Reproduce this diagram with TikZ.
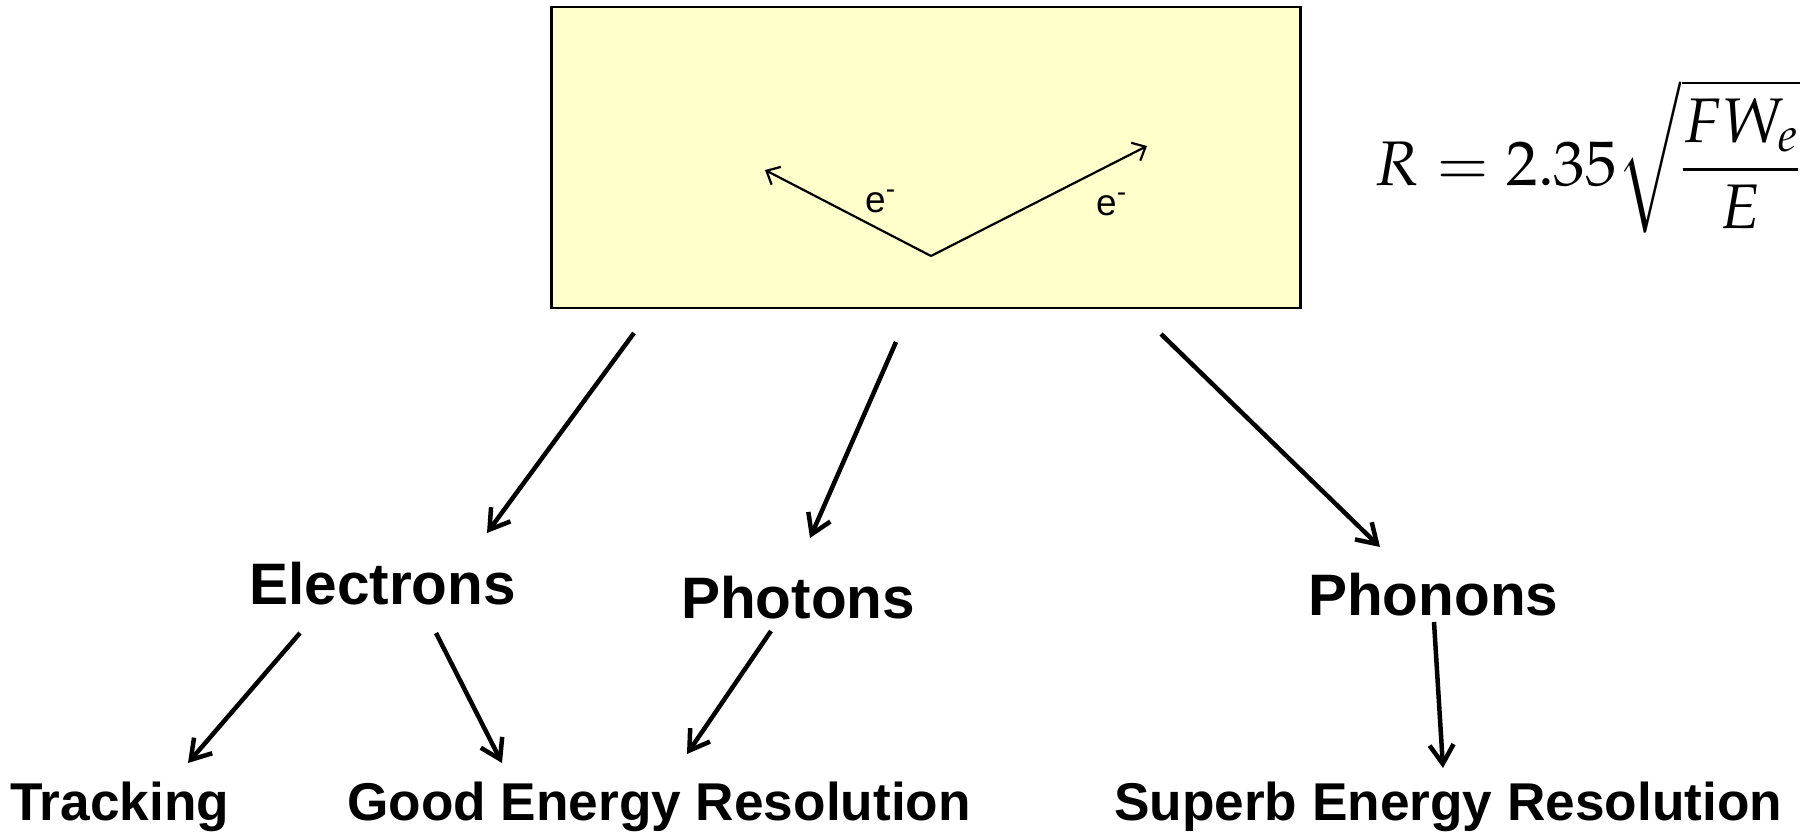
\documentclass[tikz,border=0pt]{standalone}
\usepackage{mathpazo}
\usepackage[no-math]{fontspec}
\setmainfont{Liberation Sans}
\usetikzlibrary{arrows.meta}
\definecolor{boxfill}{HTML}{FFFFCC}
\begin{document}
\begin{tikzpicture}[x=1pt,y=-1pt,
  big/.style={font=\fontsize{58.5}{70}\selectfont\bfseries, inner sep=0pt, anchor=base west},
  res/.style={font=\fontsize{53.2}{63}\selectfont\bfseries, inner sep=0pt, anchor=base west},
  conn/.style={line width=4.5pt, -{Straight Barb[length=19pt,width=24pt]}},
  thin/.style={line width=2.2pt, -{Straight Barb[length=11pt,width=20pt]}},
  elab/.style={font=\fontsize{37}{44}\selectfont, inner sep=0pt, anchor=base west}]
\useasboundingbox (0,0) rectangle (1804,832);
% box
\node[draw, line width=2.5pt, fill=boxfill, minimum width=749pt, minimum height=301pt, inner sep=0pt] (box) at (926,157.5) {};
% inner arrows
\coordinate (v) at (931,256);
\coordinate (tl) at (765,170);
\coordinate (tr) at (1147,146);
\draw[thin] (v) -- (tl);
\draw[thin] (v) -- (tr);
\node[elab] (e1) at (865,212) {e\textsuperscript{-}};
\node[elab] (e2) at (1096,215) {e\textsuperscript{-}};
% formula
\node[anchor=base west, inner sep=0pt, font=\fontsize{63}{75}\selectfont] (formula) at (1374,185) {$\displaystyle R = 2.35\sqrt{\frac{\displaystyle FW_e}{\displaystyle E}}$};
% labels
\node[big] (el) at (249,604) {Electrons};
\node[big] (ph) at (681,618) {Photons};
\node[big] (pn) at (1308,615) {Phonons};
\node[res] (tr2) at (10,820) {Tracking};
\node[res] (good) at (347,820) {Good Energy Resolution};
\node[res] (sup) at (1114,820) {Superb Energy Resolution};
% connector endpoints
\coordinate (a1s) at (634,333); \coordinate (a1e) at (487,533);
\coordinate (a2s) at (896,342); \coordinate (a2e) at (810,538);
\coordinate (a3s) at (1161,334); \coordinate (a3e) at (1380,547);
\coordinate (a4s) at (300,633); \coordinate (a4e) at (188,763);
\coordinate (a5s) at (436,633); \coordinate (a5e) at (502,763);
\coordinate (a6s) at (771,631); \coordinate (a6e) at (687,754);
\coordinate (a7s) at (1434,622); \coordinate (a7e) at (1443,768);
\draw[conn] (a1s) -- (a1e);
\draw[conn] (a2s) -- (a2e);
\draw[conn] (a3s) -- (a3e);
\draw[conn] (a4s) -- (a4e);
\draw[conn] (a5s) -- (a5e);
\draw[conn] (a6s) -- (a6e);
\draw[conn] (a7s) -- (a7e);
\end{tikzpicture}
\end{document}
